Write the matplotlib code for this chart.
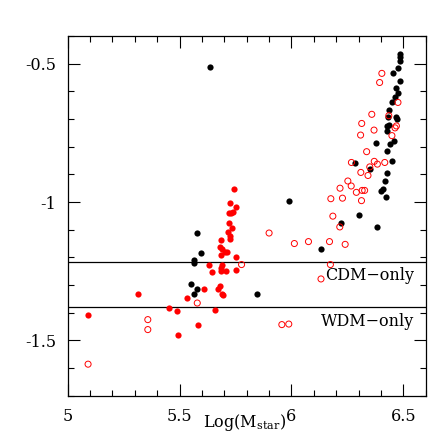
import matplotlib
matplotlib.use("Agg")
import matplotlib.pyplot as plt
from matplotlib.ticker import MultipleLocator, FixedLocator

plt.rcParams['font.family'] = ['DejaVu Serif']
plt.rcParams['mathtext.fontset'] = 'dejavuserif'

# black filled points
black_x = [5.637, 6.483, 6.487, 6.483, 6.476, 6.452, 6.483, 6.469, 6.478, 6.463,
           6.448, 6.437, 6.469, 6.473, 6.431, 6.427, 6.436, 6.427, 6.376, 6.442,
           6.458, 6.429, 6.448, 6.283, 6.353, 6.429, 6.417, 6.409, 6.399, 6.421,
           5.989, 6.302, 6.223, 6.383, 6.132, 5.579, 5.594, 5.565, 5.565, 5.550,
           5.576, 5.564, 5.844]
black_y = [-0.513, -0.465, -0.477, -0.489, -0.517, -0.534, -0.562, -0.589, -0.607, -0.622,
           -0.637, -0.666, -0.691, -0.700, -0.691, -0.725, -0.722, -0.743, -0.785, -0.791,
           -0.779, -0.817, -0.851, -0.860, -0.882, -0.896, -0.924, -0.954, -0.960, -0.982,
           -0.996, -1.048, -1.075, -1.090, -1.168, -1.113, -1.186, -1.208, -1.220, -1.296,
           -1.316, -1.331, -1.334]

# red filled points
red_x = [5.744, 5.725, 5.754, 5.721, 5.732, 5.739, 5.722, 5.733, 5.717, 5.727,
         5.727, 5.684, 5.682, 5.691, 5.711, 5.702, 5.685, 5.753, 5.632, 5.688,
         5.686, 5.646, 5.683, 5.706, 5.751, 5.608, 5.681, 5.672, 5.688, 5.695,
         5.534, 5.314, 5.454, 5.487, 5.658, 5.092, 5.583, 5.491]
red_y = [-0.954, -1.002, -1.018, -1.041, -1.038, -1.036, -1.074, -1.093, -1.110, -1.123,
         -1.133, -1.138, -1.162, -1.170, -1.179, -1.181, -1.192, -1.200, -1.227, -1.226,
         -1.238, -1.253, -1.250, -1.250, -1.247, -1.316, -1.304, -1.314, -1.333, -1.337,
         -1.347, -1.334, -1.383, -1.395, -1.391, -1.407, -1.444, -1.482]

# red open circles
open_x = [6.404, 6.394, 6.476, 6.359, 6.435, 6.463, 6.469, 6.314, 6.369, 6.309,
          6.449, 6.336, 6.268, 6.370, 6.417, 6.384, 6.350, 6.310, 6.342, 6.252,
          6.267, 6.217, 6.290, 6.316, 6.327, 6.228, 6.176, 6.313, 6.185, 6.216,
          5.900, 6.013, 6.076, 6.170, 6.240, 5.777, 6.174, 6.132, 5.957, 5.988,
          5.579, 5.358, 5.358, 5.091]
open_y = [-0.535, -0.568, -0.640, -0.683, -0.688, -0.732, -0.725, -0.716, -0.740, -0.758,
          -0.760, -0.818, -0.857, -0.853, -0.857, -0.863, -0.873, -0.893, -0.904, -0.924,
          -0.942, -0.950, -0.965, -0.958, -0.958, -0.986, -0.988, -0.995, -1.051, -1.090,
          -1.112, -1.150, -1.143, -1.143, -1.153, -1.226, -1.226, -1.278, -1.443, -1.441,
          -1.365, -1.425, -1.461, -1.586]

cdm_level = -1.218
wdm_level = -1.379
x_ticks = [5, 5.5, 6, 6.5]
x_labels = ['5', '5.5', '6', '6.5']
y_ticks = [-1.5, -1, -0.5]
y_labels = ['-1.5', '-1', '-0.5']


def main():
    fig = plt.figure(figsize=(4.36, 4.36), dpi=100)
    ax = fig.add_axes([0.1553, 0.0924, 0.8211, 0.825])

    ax.scatter(black_x, black_y, s=20, color='black', linewidths=0, zorder=3)
    ax.scatter(red_x, red_y, s=20, color='red', linewidths=0, zorder=3)
    ax.scatter(open_x, open_y, s=19, facecolors='none', edgecolors='red',
               linewidths=0.7, zorder=3)

    ax.axhline(cdm_level, color='black', lw=0.9)
    ax.axhline(wdm_level, color='black', lw=0.9)
    ax.text(6.548, -1.266, 'CDM\u2212only', ha='right', va='center', fontsize=11.5)
    ax.text(6.548, -1.431, 'WDM\u2212only', ha='right', va='center', fontsize=11.5)

    ax.set_xlim(5, 6.6)
    ax.set_ylim(-1.7, -0.4)
    ax.xaxis.set_major_locator(FixedLocator(x_ticks))
    ax.set_xticklabels(x_labels)
    ax.yaxis.set_major_locator(FixedLocator(y_ticks))
    ax.set_yticklabels(y_labels)
    ax.xaxis.set_minor_locator(MultipleLocator(0.1))
    ax.yaxis.set_minor_locator(MultipleLocator(0.1))
    ax.tick_params(which='both', direction='in', top=True, right=True,
                   labelsize=11.5, width=0.8)
    ax.tick_params(which='major', length=8.5, pad=8.5)
    ax.tick_params(which='minor', length=4)
    for sp in ax.spines.values():
        sp.set_linewidth(0.9)

    ax.set_xlabel(r'Log(M$_{\rm star}$)', fontsize=11.5)
    ax.xaxis.set_label_coords(0.494, -0.044)

    fig.savefig('out.png', dpi=100)


if __name__ == "__main__":
    main()
